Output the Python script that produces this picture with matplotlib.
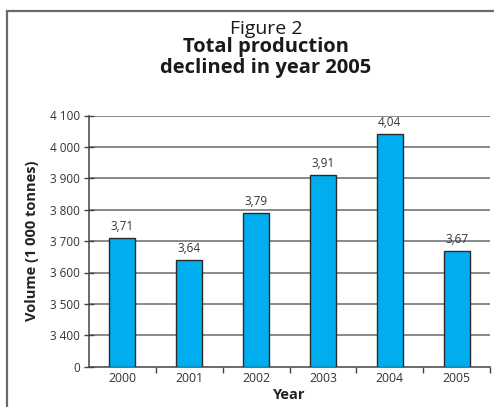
import numpy as np
import matplotlib
matplotlib.use("Agg")
import matplotlib.pyplot as plt
from matplotlib.patches import Rectangle

plt.rcParams['font.family'] = ['Open Sans', 'DejaVu Sans']

# Total production, 1 000 tonnes
years = ["2000", "2001", "2002", "2003", "2004", "2005"]
volume = [3710, 3640, 3790, 3910, 4040, 3670]
y_ticks = [0, 3400, 3500, 3600, 3700, 3800, 3900, 4000, 4100]

BREAK_LO = 3400   # values below this are squeezed into one step
STEP = 100


def fwd(v):
    v = np.asarray(v, dtype=float)
    return np.where(v >= BREAK_LO, v, BREAK_LO - STEP + v * STEP / BREAK_LO)


def inv(u):
    u = np.asarray(u, dtype=float)
    return np.where(u >= BREAK_LO, u, (u - (BREAK_LO - STEP)) * BREAK_LO / STEP)


W, H = 494, 407
fig = plt.figure(figsize=(W / 100, H / 100), dpi=100)

# outer frame
fig.patches.append(Rectangle((7 / W, -0.1), 1.2, 1 - 11 / H + 0.1,
                             transform=fig.transFigure, fill=False,
                             edgecolor="#6a6a6a", linewidth=1.6))

ax = fig.add_axes([89 / W, 1 - 366.7 / H, (490 - 89) / W, (366.7 - 115.5) / H])
ax.set_yscale('function', functions=(fwd, inv))
ax.set_ylim(0, 4100)
ax.set_xlim(-0.5, 5.5)

x = np.arange(len(years))
ax.bar(x, volume, width=0.39, color="#00aeef", edgecolor="#2a2a2a",
       linewidth=1.0, zorder=3)

for xi, v in zip(x, volume):
    ax.annotate(f"{v / 1000:.2f}".replace(".", ","), (xi, v),
                xytext=(0, 3.5), textcoords="offset points",
                ha="center", va="bottom", fontsize=8.5, color="#333333")

ax.set_yticks(y_ticks)
ax.set_yticklabels([f"{t:,}".replace(",", " ") for t in y_ticks])
for t in y_ticks[1:]:
    ax.axhline(t, color="#6a6a6a", linewidth=1.1, zorder=1)

ax.set_xticks(np.arange(0.5, 6, 1))
ax.set_xticklabels([])
ax.set_xticks(x, minor=True)
ax.set_xticklabels(years, minor=True)
ax.tick_params(axis="x", which="major", direction="out", length=4,
               color="#444444", width=1)
ax.tick_params(axis="x", which="minor", length=0, labelsize=8.8,
               labelcolor="#333333", pad=4)
ax.tick_params(axis="y", direction="inout", length=7, width=1,
               color="#444444", labelsize=8.5, labelcolor="#333333", pad=3)

for s in ("top", "right"):
    ax.spines[s].set_visible(False)
for s in ("left", "bottom"):
    ax.spines[s].set_color("#444444")
    ax.spines[s].set_linewidth(1.1)

ax.set_ylabel("Volume (1 000 tonnes)", fontsize=10.5, fontweight="bold",
              color="#222222", labelpad=8)
ax.set_xlabel("Year", fontsize=10.5, fontweight="bold", color="#222222",
              labelpad=2)

cx = 266 / W
fig.text(cx, 1 - 34.5 / H, "Figure 2", ha="center", va="baseline",
         fontsize=14, color="#1a1a1a")
fig.text(cx, 1 - 52 / H, "Total production", ha="center", va="baseline",
         fontsize=14.5, fontweight="bold", color="#1a1a1a")
fig.text(cx, 1 - 73 / H, "declined in year 2005", ha="center", va="baseline",
         fontsize=14.5, fontweight="bold", color="#1a1a1a")

fig.savefig("out.png", dpi=100)
